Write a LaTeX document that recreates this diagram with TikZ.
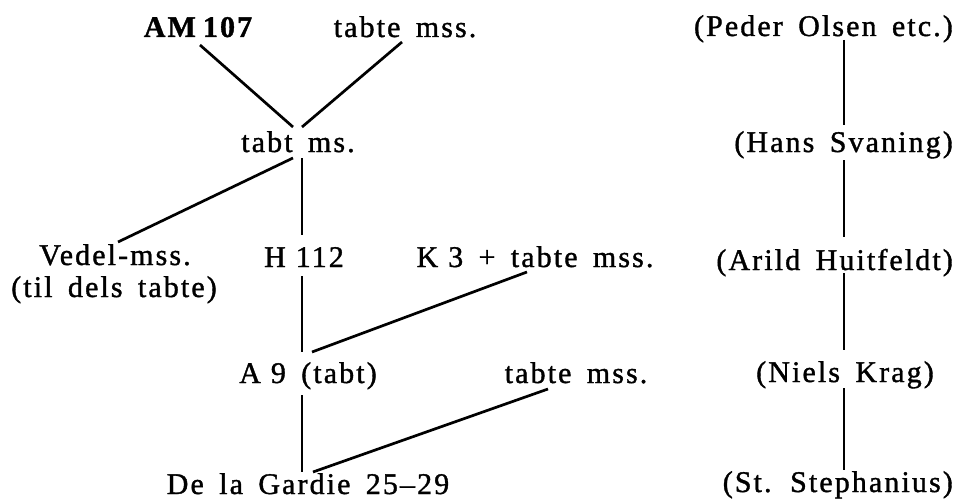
\documentclass[tikz,border=0pt]{standalone}
\usepackage{fontspec}
\setmainfont{Liberation Serif}[LetterSpace=7, WordSpace=1.6, FakeBold=1.2]
\usetikzlibrary{calc}
\begin{document}
\begin{tikzpicture}[x=1pt,y=-1pt,
  lbl/.style={inner sep=0pt, font=\fontsize{30}{34}\selectfont},
  conn/.style={line width=2.7pt, black}]
\useasboundingbox[fill=white] (0,0) rectangle (958,500);
% left tree
\node[lbl, anchor=base] (am)  at (198,37)  {\bfseries AM\kern7pt 107};
\node[lbl, anchor=base] (t1)  at (405,37)  {tabte mss.};
\node[lbl, anchor=base] (tms) at (298,152) {tabt ms.};
\node[lbl, anchor=base] (vedel)  at (115,265) {Vedel-mss.};
\node[lbl, anchor=base] (vedelb) at (114,297) {(til dels tabte)};
\node[lbl, anchor=base] (h112) at (304,267) {H\kern10pt 112};
\node[lbl, anchor=base] (k3)   at (535,267) {K\kern10pt 3 + tabte mss.};
\node[lbl, anchor=base] (a9)   at (308,383) {A\kern10pt 9 (tabt)};
\node[lbl, anchor=base] (t2)   at (576,383) {tabte mss.};
\node[lbl, anchor=base] (dlg)  at (308,494) {De la Gardie 25–29};
% right column
\node[lbl, anchor=base east] (pol)   at (953,36)  {(Peder Olsen etc.)};
\node[lbl, anchor=base east] (hs)    at (953,152) {(Hans Svaning)};
\node[lbl, anchor=base east] (arild) at (953,270) {(Arild Huitfeldt)};
\node[lbl, anchor=base]      (niels) at (845,382) {(Niels Krag)};
\node[lbl, anchor=base east] (st)    at (953,492) {(St. Stephanius)};
% connectors left
\draw[conn] ($(am.base)+(2,8)$)    -- ($(tms.base)+(-5,-25)$);
\draw[conn] ($(t1.base)+(-3,5)$)   -- ($(tms.base)+(4,-25)$);
\draw[conn] ($(tms.base)+(-5,6)$)  -- ($(vedel.base)+(3,-23)$);
\draw[conn] ($(tms.base)+(4,6)$)   -- ($(h112.base)+(-2,-32)$);
\draw[conn] ($(h112.base)+(-2,9)$) -- ($(a9.base)+(-6,-31)$);
\draw[conn] ($(k3.base)+(-8,5)$)   -- ($(a9.base)+(4,-31)$);
\draw[conn] ($(a9.base)+(-6,12)$)  -- ($(dlg.base)+(-6,-22)$);
\draw[conn] ($(t2.base)+(-28,6)$)  -- ($(dlg.base)+(5,-22)$);
% connectors right
\draw[conn] ($(pol.base east)+(-109,4)$)   -- ($(hs.base east)+(-109,-27)$);
\draw[conn] ($(hs.base east)+(-109,8)$)    -- ($(arild.base east)+(-109,-33)$);
\draw[conn] ($(arild.base east)+(-109,3)$) -- ($(niels.base)+(-1,-32)$);
\draw[conn] ($(niels.base)+(-1,6)$)        -- ($(st.base east)+(-109,-22)$);
\end{tikzpicture}
\end{document}
